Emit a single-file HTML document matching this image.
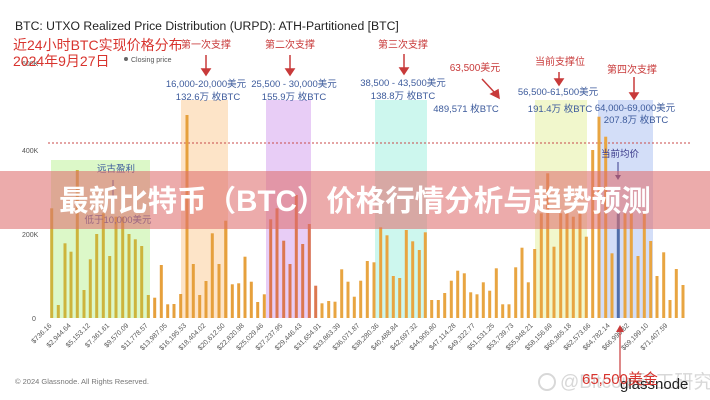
<!DOCTYPE html>
<html><head><meta charset="utf-8"><style>
html,body{margin:0;padding:0;background:#fff;}
svg{display:block;font-family:"Liberation Sans","Noto Sans CJK SC",sans-serif;}
</style></head><body>
<svg id="s" width="710" height="400" viewBox="0 0 710 400" xmlns="http://www.w3.org/2000/svg">
<rect width="710" height="400" fill="#fff"/>
<rect x="51" y="160" width="99" height="158" fill="#dcf8c8"/>
<rect x="181" y="100" width="47" height="218" fill="#fde4c8"/>
<rect x="266" y="100" width="45" height="218" fill="#e8cdf6"/>
<rect x="375" y="100" width="52" height="218" fill="#cdf7ee"/>
<rect x="535" y="100" width="52" height="218" fill="#f1f7cc"/>
<rect x="598" y="100" width="55" height="218" fill="#d3def8"/>
<line x1="48" y1="143" x2="692" y2="143" stroke="#c84a4a" stroke-width="1" stroke-dasharray="2,2"/>
<g id="bars"></g>
<g id="xl" font-size="7" fill="#555"></g>
<g font-size="7" fill="#555">
<text x="22" y="153">400K</text>
<text x="22" y="237">200K</text>
<text x="32" y="321">0</text>
</g>
<text x="15" y="30" font-size="12.2" fill="#222">BTC: UTXO Realized Price Distribution (URPD): ATH-Partitioned [BTC]</text>
<circle cx="126" cy="59" r="2" fill="#666"/>
<text x="131" y="62" font-size="7" fill="#555">Closing price</text>
<text x="22" y="66" font-size="7" fill="#555">600K</text>
<text x="13" y="50" font-size="14" fill="#d8342e">近24小时BTC实现价格分布</text>
<text x="13" y="66" font-size="14" fill="#d8342e">2024年9月27日</text>
<g font-size="10" fill="#c83a3a" text-anchor="middle">
<text x="206" y="48">第一次支撑</text>
<text x="290" y="48">第二次支撑</text>
<text x="403" y="48">第三次支撑</text>
<text x="475" y="71">63,500美元</text>
<text x="560" y="65">当前支撑位</text>
<text x="632" y="73">第四次支撑</text>
</g>
<g stroke="#c83a3a" stroke-width="1.5" fill="#c83a3a">
<line x1="206" y1="55" x2="206" y2="70"/><polygon points="202,69 210,69 206,75"/>
<line x1="290" y1="55" x2="290" y2="70"/><polygon points="286,69 294,69 290,75"/>
<line x1="404" y1="54" x2="404" y2="69"/><polygon points="400,68 408,68 404,74"/>
<line x1="482" y1="79" x2="495" y2="93"/><polygon points="491,94 498,90 499,98"/>
<line x1="559" y1="72" x2="559" y2="80"/><polygon points="555,79 563,79 559,85"/>
<line x1="634" y1="77" x2="634" y2="94"/><polygon points="630,93 638,93 634,99"/>
</g>
<g font-size="9.5" fill="#3d5b9c" text-anchor="middle">
<text x="206" y="87">16,000-20,000美元</text>
<text x="208" y="100">132.6万 枚BTC</text>
<text x="294" y="87">25,500 - 30,000美元</text>
<text x="294" y="100">155.9万 枚BTC</text>
<text x="403" y="86">38,500 - 43,500美元</text>
<text x="403" y="99">138.8万 枚BTC</text>
<text x="466" y="112">489,571 枚BTC</text>
<text x="558" y="95">56,500-61,500美元</text>
<text x="560" y="112">191.4万 枚BTC</text>
<text x="635" y="111">64,000-69,000美元</text>
<text x="636" y="123">207.8万 枚BTC</text>
<text x="116" y="172">远古盈利</text>
<text x="118" y="223">低于10,000美元</text>
<text x="620" y="157" fill="#3a3a8a">当前均价</text>
</g>
<line x1="618" y1="162" x2="618" y2="176" stroke="#3a3a8a"/><polygon points="615,175 621,175 618,180" fill="#3a3a8a"/>
<line x1="113" y1="180" x2="113" y2="210" stroke="#3d5b9c"/>
<rect x="0" y="171" width="710" height="58" fill="rgba(222,110,110,0.58)"/>
<text x="355" y="211" font-size="29.5" font-weight="bold" fill="#fff" text-anchor="middle">最新比特币（BTC）价格行情分析与趋势预测</text>
<text x="15" y="384" font-size="7.5" fill="#777">© 2024 Glassnode. All Rights Reserved.</text>
<text x="560" y="388" font-size="19" fill="#d8d8d8">@Bitcoin矿工研究者</text>
<circle cx="547" cy="382" r="8" fill="none" stroke="#d8d8d8" stroke-width="2"/>
<text x="620" y="389" font-size="15" fill="#222">glassnode</text>
<line x1="620" y1="330" x2="620" y2="378" stroke="#c83a3a" stroke-width="1.2"/><polygon points="616,332 624,332 620,325" fill="#c83a3a"/>
<text x="582" y="384" font-size="15" fill="#d8342e">65,500美金</text>
</svg>
<script>
var z3=[[155,235],[175,525],[195,340],[213,365],[232,120],[252,480],[271,388],[290,312],[310,250],[329,378],[348,260],[368,260],[387,312],[406,328],[425,348],[445,495],[464,503],[484,405],[503,523],[522,522],[542,492],[561,-45],[580,402],[599,495],[618,453],[637,310],[657,402],[677,272],[697,463],[716,460],[735,380],[754,455],[773,516],[793,493],[812,268],[831,235],[851,332],[870,402],[889,195],[908,342],[928,282],[947,467],[966,520],[986,513],[1005,515],[1025,418],[1044,455],[1063,500]];
var z4=[[17,452],[37,393],[57,397],[77,292],[96,316],[115,438],[134,444],[154,300],[173,334],[193,360],[211,307],[230,510],[250,510],[269,489],[289,452],[308,422],[328,430],[347,487],[366,493],[385,457],[404,482],[424,415],[443,523],[462,523],[482,412],[501,353],[520,457],[539,357],[559,250],[578,130],[597,350],[617,250],[636,250],[655,260],[675,240],[694,320],[713,60],[732,-40],[752,20],[771,370],[790,250],[810,250],[829,250],[849,378],[868,250],[887,333],[906,438],[926,367],[945,510],[964,417],[984,465]];
var bars=[];
z3.forEach(function(b){bars.push([b[0]/3,130+b[1]/3]);});
z4.forEach(function(b){bars.push([355+b[0]/3,130+b[1]/3]);});
var ns="http://www.w3.org/2000/svg",g=document.getElementById("bars");
bars.forEach(function(b,i){
 var x=b[0],y=b[1],c;
 if(x<150)c=[205,180,60];
 else if(x<265)c=[230,160,60];
 else if(x<320)c=[220,120,80];
 else c=[232,165,65];
 if(Math.abs(x-618)<3)c=[80,110,170];
 var r=document.createElementNS(ns,"rect");
 r.setAttribute("x",(x-1.5).toFixed(1));r.setAttribute("y",y.toFixed(1));
 r.setAttribute("width","3");r.setAttribute("height",(318-y).toFixed(1));
 r.setAttribute("fill","rgb("+c.join(",")+")");g.appendChild(r);
});
var labs=["$736.16","$2,944.64","$5,153.12","$7,361.61","$9,570.09","$11,778.57","$13,987.05","$16,195.53","$18,404.02","$20,612.50","$22,820.98","$25,029.46","$27,237.95","$29,446.43","$31,654.91","$33,863.39","$36,071.87","$38,280.36","$40,488.84","$42,697.32","$44,905.80","$47,114.28","$49,322.77","$51,531.25","$53,739.73","$55,948.21","$58,156.69","$60,365.18","$62,573.66","$64,782.14","$66,990.62","$69,199.10","$71,407.59"];
var xl=document.getElementById("xl");
labs.forEach(function(l,i){
 var x=52+i*19.25,t=document.createElementNS(ns,"text");
 t.setAttribute("transform","translate("+x.toFixed(1)+",326) rotate(-45)");
 t.setAttribute("text-anchor","end");t.textContent=l;xl.appendChild(t);
});
</script>
</body></html>
